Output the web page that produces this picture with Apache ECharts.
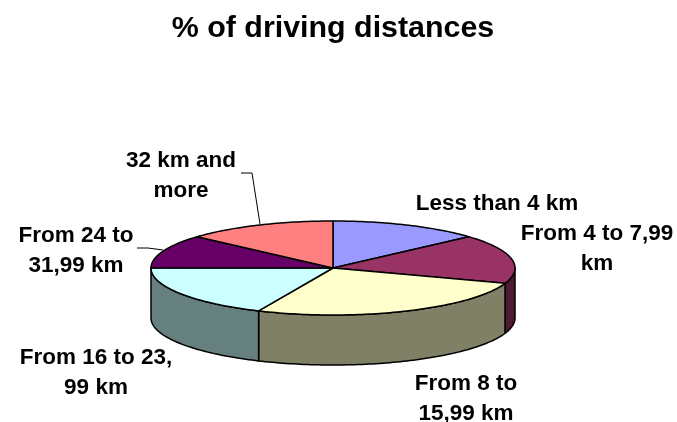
<!DOCTYPE html>
<html>
<head>
<meta charset="utf-8">
<style>
  html, body { margin: 0; padding: 0; background: #fff; }
  #chart { width: 677px; height: 422px; }
</style>
<script src="https://cdn.jsdelivr.net/npm/echarts@6/dist/echarts.min.js"></script>
</head>
<body>
<div id="chart"></div>
<script>
// values (% of trips), clockwise from 12 o'clock
const categories = ['Less than 4 km', 'From 4 to 7,99\nkm', 'From 8 to\n15,99 km', 'From 16 to 23,\n99 km', 'From 24 to\n31,99 km', '32 km and\nmore'];
const shares = [13.4, 16.9, 26.4, 18.4, 11.5, 13.4];
const topColors = ['#9999FF', '#993366', '#FFFFCC', '#CCFFFF', '#660066', '#FF8080'];
const sideColors = ['#4D4D80', '#4D1A33', '#808066', '#668080', '#330033', '#804040'];

// tilted pie geometry
const cx = 333, cy = 268, rx = 182, ry = 47, depth = 50;
const total = shares.reduce((a, b) => a + b, 0);

function rim(angle, drop) {
    return [cx + rx * Math.sin(angle), cy - ry * Math.cos(angle) + drop];
}
function arc(from, to, drop) {
    const pts = [];
    const steps = Math.max(2, Math.ceil((to - from) / 0.02));
    for (let i = 0; i <= steps; i++) pts.push(rim(from + (to - from) * i / steps, drop));
    return pts;
}
function sliceAngles(index) {
    let before = 0;
    for (let i = 0; i < index; i++) before += shares[i];
    return [before / total * 2 * Math.PI, (before + shares[index]) / total * 2 * Math.PI];
}

const lineStyle = { stroke: '#000', lineWidth: 1.5, lineJoin: 'round' };

function renderSide(params, api) {
    const [a0, a1] = sliceAngles(api.value(0));
    // only the front half of the cylinder shows
    const from = Math.max(a0, Math.PI / 2), to = Math.min(a1, 3 * Math.PI / 2);
    if (to <= from) return null;
    const points = arc(from, to, 0).concat(arc(from, to, depth).reverse());
    return { type: 'polygon', shape: { points }, style: { fill: sideColors[api.value(0)], ...lineStyle } };
}
function renderTop(params, api) {
    const [a0, a1] = sliceAngles(api.value(0));
    const points = [[cx, cy]].concat(arc(a0, a1, 0));
    return { type: 'polygon', shape: { points }, style: { fill: topColors[api.value(0)], ...lineStyle } };
}

const labelFont = { fontFamily: '"Liberation Sans", Arial, sans-serif', fontWeight: 'bold', fontSize: 22.5, lineHeight: 30, fill: '#000', align: 'center', verticalAlign: 'middle' };
const labelSpots = [[497, 204], [597, 249], [466, 399], [96, 373], [76, 251], [181, 176]];

const chart = echarts.init(document.getElementById('chart'), null, { renderer: 'canvas' });
chart.setOption({
    animation: false,
    backgroundColor: '#fff',
    title: {
        text: '% of driving distances',
        left: 328, top: 9, textAlign: 'center',
        textStyle: { fontFamily: '"Liberation Sans", Arial, sans-serif', fontWeight: 'bold', fontSize: 30.4, color: '#000' }
    },
    series: [
        {
            type: 'custom', coordinateSystem: 'none', silent: true, z: 1,
            data: shares.map((v, i) => [i, v]),
            renderItem: renderSide
        },
        {
            type: 'custom', coordinateSystem: 'none', silent: true, z: 2,
            data: shares.map((v, i) => [i, v]),
            renderItem: renderTop
        }
    ],
    graphic: categories.map((name, i) => ({
        type: 'text', x: labelSpots[i][0], y: labelSpots[i][1], z: 5,
        style: { text: name, ...labelFont }
    })).concat([
        { type: 'polyline', z: 0, shape: { points: [[241, 173], [252, 173], [260, 224]] }, style: { stroke: '#000', lineWidth: 1, fill: null } },
        { type: 'polyline', z: 0, shape: { points: [[137, 248], [148, 248], [163, 250]] }, style: { stroke: '#000', lineWidth: 1, fill: null } }
    ])
});
</script>
</body>
</html>
